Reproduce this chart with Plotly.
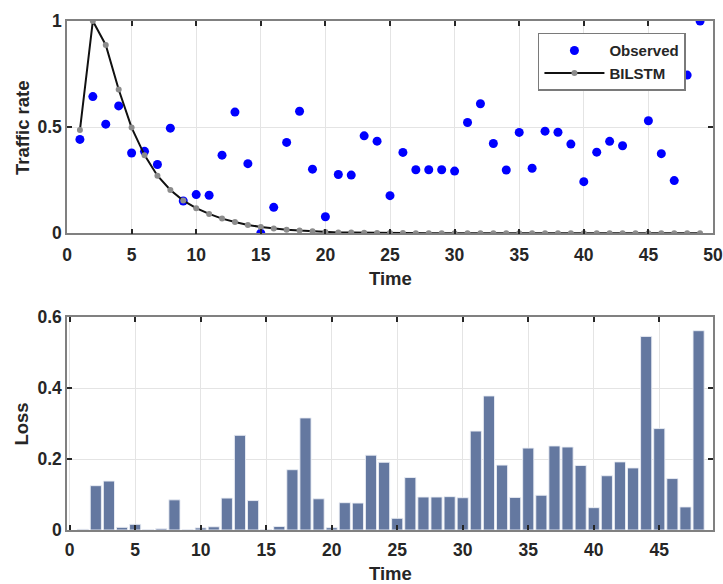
import plotly.graph_objects as go

# Time steps
time_obs = list(range(1, 50))
time_loss = list(range(1, 49))

# Observed traffic rate
observed = [0.442, 0.644, 0.514, 0.600, 0.378, 0.386, 0.324, 0.495, 0.152, 0.182,
            0.179, 0.368, 0.571, 0.328, 0.000, 0.122, 0.428, 0.575, 0.302, 0.078,
            0.277, 0.274, 0.459, 0.434, 0.177, 0.381, 0.299, 0.299, 0.299, 0.293,
            0.522, 0.610, 0.423, 0.298, 0.475, 0.306, 0.481, 0.476, 0.420, 0.243,
            0.382, 0.433, 0.412, 0.738, 0.530, 0.375, 0.248, 0.745, 1.000]

# BILSTM prediction
bilstm = [0.486, 1.000, 0.887, 0.677, 0.498, 0.368, 0.271, 0.204, 0.154, 0.118,
          0.091, 0.069, 0.053, 0.039, 0.030, 0.022, 0.017, 0.0125, 0.009, 0.006,
          0.004, 0.003, 0.002, 0.0015, 0.001, 0.001, 0.0005, 0.0005, 0.0, 0.0,
          0.0, 0.0, 0.0, 0.0, 0.0, 0.0, 0.0, 0.0, 0.0, 0.0,
          0.0, 0.0, 0.0, 0.0, 0.0, 0.0, 0.0, 0.0, 0.0]

# Loss per time step
loss = [0.002, 0.125, 0.138, 0.0075, 0.016, 0.001, 0.004, 0.085, 0.001, 0.006,
        0.009, 0.090, 0.267, 0.083, 0.001, 0.010, 0.170, 0.316, 0.088, 0.0066,
        0.077, 0.076, 0.211, 0.191, 0.033, 0.148, 0.093, 0.093, 0.094, 0.091,
        0.279, 0.378, 0.183, 0.092, 0.231, 0.098, 0.237, 0.234, 0.182, 0.063,
        0.153, 0.192, 0.175, 0.546, 0.286, 0.145, 0.065, 0.562]

TEXT = "#262626"
FONT = "Liberation Sans, Arial, sans-serif"

fig = go.Figure()

fig.add_trace(go.Scatter(
    x=time_obs, y=observed, mode="markers", name="Observed",
    marker=dict(color="#0000ff", size=9),
    xaxis="x", yaxis="y",
))
fig.add_trace(go.Scatter(
    x=time_obs, y=bilstm, mode="lines+markers", name="BILSTM",
    line=dict(color="#111111", width=2),
    marker=dict(color="#8c8c8c", size=6),
    xaxis="x", yaxis="y",
))
fig.add_trace(go.Bar(
    x=time_loss, y=loss, name="Loss", showlegend=False,
    width=0.85,
    marker=dict(color="#6478a0", line=dict(color="rgba(235,238,245,0.9)", width=1)),
    xaxis="x2", yaxis="y2",
))

axis_common = dict(
    showline=True, linecolor="#808080", linewidth=1.5, mirror="ticks",
    ticks="inside", ticklen=5, tickwidth=1.5, tickcolor="#262626",
    showgrid=True, gridcolor="#e4e4e4", gridwidth=1,
    zeroline=False, automargin=False,
    tickfont=dict(family=FONT, size=17.5, color=TEXT, weight="bold"),
)
title_font = dict(family=FONT, size=18.5, color=TEXT, weight="bold")

# Axis titles placed as paper annotations
axis_titles = [
    dict(text="Time", x=0.5, y=0.495, textangle=0),
    dict(text="Time", x=0.5, y=-0.0864, textangle=0),
    dict(text="Traffic rate", x=-0.0697, y=0.7915, textangle=-90),
    dict(text="Loss", x=-0.0697, y=0.209, textangle=-90),
]
annotations = [
    dict(a, xref="paper", yref="paper", xanchor="center", yanchor="middle",
         showarrow=False, font=title_font)
    for a in axis_titles
]

fig.update_layout(
    width=723, height=584,
    margin=dict(l=67, r=10, t=21, b=54),
    paper_bgcolor="white", plot_bgcolor="white",
    showlegend=True,
    annotations=annotations,
    legend=dict(
        x=0.729, y=0.977, xanchor="left", yanchor="top",
        bgcolor="white", bordercolor="#7a7a7a", borderwidth=1.5,
        font=dict(family=FONT, size=15, color=TEXT, weight="bold"),
        itemwidth=60, tracegroupgap=0,
    ),
    xaxis=dict(
        axis_common, domain=[0, 1], anchor="y", range=[0, 50],
        tickvals=[0, 5, 10, 15, 20, 25, 30, 35, 40, 45, 50],
        ticklabelstandoff=5,
    ),
    yaxis=dict(
        axis_common, domain=[0.583, 1], anchor="x", range=[0, 1],
        tickvals=[0, 0.5, 1],
    ),
    xaxis2=dict(
        axis_common, domain=[0, 1], anchor="y2", range=[-0.2, 49.1],
        tickvals=[0, 5, 10, 15, 20, 25, 30, 35, 40, 45],
        ticklabelstandoff=3,
    ),
    yaxis2=dict(
        axis_common, domain=[0, 0.418], anchor="x2", range=[0, 0.6],
        tickvals=[0, 0.2, 0.4, 0.6],
    ),
)

fig.write_html("out.html")
